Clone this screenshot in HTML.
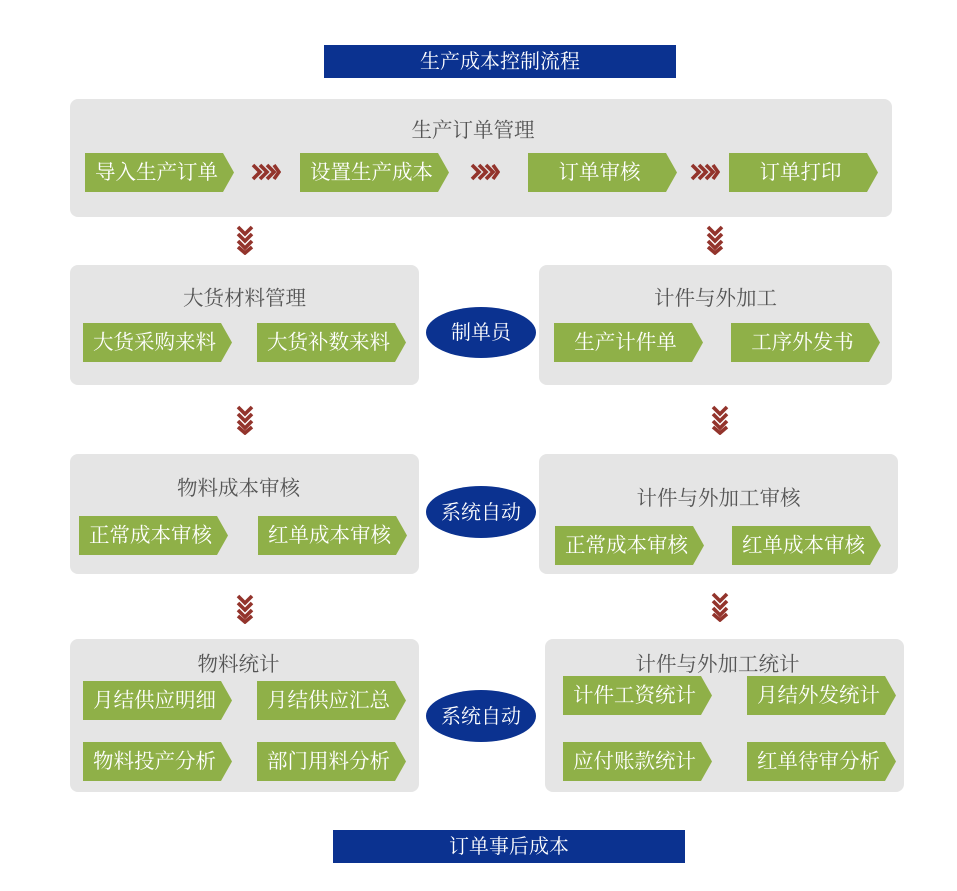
<!DOCTYPE html><html><head><meta charset="utf-8"><style>
body{margin:0;width:957px;height:891px;background:#fff;position:relative;font-family:"Liberation Serif","Noto Serif CJK SC",serif;overflow:hidden}
.a{position:absolute}
.bar{background:#0b3290;color:#fff;font-size:20px;text-align:center;line-height:35px}
.p{background:#e5e5e5;border-radius:8px}
.t{color:#555;font-size:20.5px;text-align:center;margin-top:1px}
.g{background:#8fb048;color:#fff;font-size:20.5px;line-height:41px;text-align:center;clip-path:polygon(0 0,calc(100% - 11px) 0,100% 50%,calc(100% - 11px) 100%,0 100%);padding-right:6px;box-sizing:border-box;height:39px}
.e{background:#0b3290;color:#fff;border-radius:50%;font-size:20px;text-align:center}
</style></head><body>
<svg width="0" height="0" style="position:absolute"><defs>
<symbol id="r" viewBox="0 0 30 18"><g fill="none" stroke="#93342c" stroke-width="3.6"><path d="M2 2l7 7-7 7M9 2l7 7-7 7M16 2l7 7-7 7M23 2l5 7-5 7"/></g></symbol>
<symbol id="d" viewBox="0 0 18 30"><g fill="none" stroke="#93342c" stroke-width="3.6"><path d="M2 2l7 7 7-7M2 9l7 7 7-7M2 16l7 7 7-7M2 22l7 6 7-6"/></g></symbol>
</defs></svg>
<div class="a bar" style="left:324px;top:45px;width:352px;height:33px">生产成本控制流程</div>
<div class="a bar" style="left:333px;top:830px;width:352px;height:33px">订单事后成本</div>

<div class="a p" style="left:70px;top:99px;width:822px;height:118px"></div>
<div class="a t" style="left:70px;top:112px;width:806px">生产订单管理</div>
<div class="a g" style="left:85px;top:153px;width:149px">导入生产订单</div>
<div class="a g" style="left:300px;top:153px;width:149px">设置生产成本</div>
<div class="a g" style="left:528px;top:153px;width:149px">订单审核</div>
<div class="a g" style="left:729px;top:153px;width:149px">订单打印</div>
<svg class="a" style="left:251px;top:163px" width="30" height="18"><use href="#r"/></svg>
<svg class="a" style="left:470px;top:163px" width="30" height="18"><use href="#r"/></svg>
<svg class="a" style="left:690px;top:163px" width="30" height="18"><use href="#r"/></svg>

<svg class="a" style="left:236px;top:225px" width="18" height="30"><use href="#d"/></svg>
<svg class="a" style="left:706px;top:225px" width="18" height="30"><use href="#d"/></svg>
<svg class="a" style="left:236px;top:405px" width="18" height="30"><use href="#d"/></svg>
<svg class="a" style="left:711px;top:405px" width="18" height="30"><use href="#d"/></svg>
<svg class="a" style="left:236px;top:594px" width="18" height="30"><use href="#d"/></svg>
<svg class="a" style="left:711px;top:592px" width="18" height="30"><use href="#d"/></svg>

<div class="a p" style="left:70px;top:265px;width:349px;height:120px"></div>
<div class="a t" style="left:70px;top:280px;width:349px">大货材料管理</div>
<div class="a g" style="left:83px;top:323px;width:149px">大货采购来料</div>
<div class="a g" style="left:257px;top:323px;width:149px">大货补数来料</div>
<div class="a p" style="left:539px;top:265px;width:353px;height:120px"></div>
<div class="a t" style="left:539px;top:280px;width:353px">计件与外加工</div>
<div class="a g" style="left:554px;top:323px;width:149px">生产计件单</div>
<div class="a g" style="left:731px;top:323px;width:149px">工序外发书</div>
<div class="a e" style="left:426px;top:307px;width:110px;height:51px;line-height:53px">制单员</div>

<div class="a p" style="left:70px;top:454px;width:349px;height:120px"></div>
<div class="a t" style="left:64px;top:470px;width:349px">物料成本审核</div>
<div class="a g" style="left:79px;top:516px;width:149px">正常成本审核</div>
<div class="a g" style="left:258px;top:516px;width:149px">红单成本审核</div>
<div class="a p" style="left:539px;top:454px;width:359px;height:120px"></div>
<div class="a t" style="left:539px;top:480px;width:359px">计件与外加工审核</div>
<div class="a g" style="left:555px;top:526px;width:149px">正常成本审核</div>
<div class="a g" style="left:732px;top:526px;width:149px">红单成本审核</div>
<div class="a e" style="left:426px;top:486px;width:110px;height:52px;line-height:54px">系统自动</div>

<div class="a p" style="left:70px;top:639px;width:349px;height:153px"></div>
<div class="a t" style="left:64px;top:646px;width:349px">物料统计</div>
<div class="a g" style="left:83px;top:681px;width:149px">月结供应明细</div>
<div class="a g" style="left:257px;top:681px;width:149px">月结供应汇总</div>
<div class="a g" style="left:83px;top:742px;width:149px">物料投产分析</div>
<div class="a g" style="left:257px;top:742px;width:149px">部门用料分析</div>
<div class="a p" style="left:545px;top:639px;width:359px;height:153px"></div>
<div class="a t" style="left:545px;top:646px;width:345px">计件与外加工统计</div>
<div class="a g" style="left:563px;top:676px;width:149px">计件工资统计</div>
<div class="a g" style="left:747px;top:676px;width:149px">月结外发统计</div>
<div class="a g" style="left:563px;top:742px;width:149px">应付账款统计</div>
<div class="a g" style="left:747px;top:742px;width:149px">红单待审分析</div>
<div class="a e" style="left:426px;top:690px;width:110px;height:52px;line-height:54px">系统自动</div>
</body></html>
